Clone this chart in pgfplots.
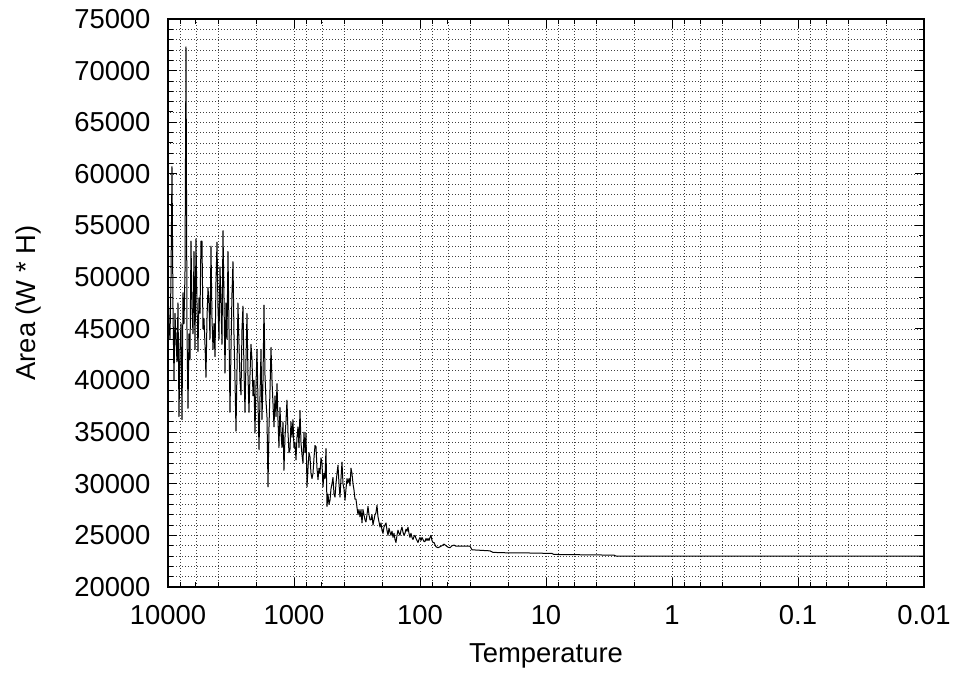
\documentclass[border=0pt]{standalone}
\usepackage{fontspec}
\setmainfont{Liberation Sans}
\usepackage{pgfplots}
\pgfplotsset{compat=1.18}

\begin{document}
\begin{tikzpicture}
\begin{axis}[
    scale only axis,
    width=756bp, height=568bp,
    xmode=log, x dir=reverse,
    xmin=0.01, xmax=10000,
    ymin=20000, ymax=75000,
    xtick={0.01,0.1,1,10,100,1000,10000},
    xticklabels={0.01,0.1,1,10,100,1000,10000},
    minor xtick={0.02,0.04,0.06,0.08,0.2,0.4,0.6,0.8,2,4,6,8,20,40,60,80,200,400,600,800,2000,4000,6000,8000},
    ytick={20000,25000,...,75000},
    minor y tick num=4,
    scaled y ticks=false,
    /pgf/number format/assume math mode=true,
    y tick label style={/pgf/number format/fixed, /pgf/number format/1000 sep={}},
    grid=both,
    major grid style={black!75, line width=0.6bp, dash pattern=on 1bp off 2bp},
    minor grid style={black!75, line width=0.6bp, dash pattern=on 1bp off 2bp},
    tick align=inside,
    major tick length=9bp, minor tick length=5bp,
    every tick/.style={black, line width=0.9bp},
    axis line style={black, line width=1.1bp},
    tick label style={font=\fontsize{27.5}{32}\selectfont},
    yticklabel style={xshift=-14bp},
    xticklabel style={yshift=-15bp},
    xlabel={Temperature},
    ylabel={Area (W * H)},
    every axis x label/.style={at={(axis description cs:0.5,-0.1338)}, anchor=base, font=\fontsize{27.5}{32}\selectfont},
    every axis y label/.style={at={(axis description cs:-0.1746,0.5)}, rotate=90, anchor=base, font=\fontsize{27.5}{32}\selectfont},
]
\addplot[black, line width=1bp, line join=round] table[row sep=\\] {
T A \\
10000 49000 \\ 9819 45500 \\ 9641 44000 \\ 9467 49800 \\ 9295 60700 \\
9127 47000 \\ 8962 40000 \\ 8799 46500 \\ 8640 44000 \\ 8483 41800 \\
8330 47500 \\ 8179 36500 \\ 8031 43000 \\ 7885 45500 \\ 7743 36200 \\
7602 48500 \\ 7465 45500 \\ 7330 50500 \\ 7197 72300 \\ 7067 45000 \\
6939 37300 \\ 6813 44500 \\ 6690 42000 \\ 6568 53500 \\ 6450 47000 \\
6333 44500 \\ 6218 52500 \\ 6105 43000 \\ 5995 53700 \\ 5886 47500 \\
5780 42800 \\ 5675 48000 \\ 5572 46500 \\ 5471 53500 \\ 5372 53500 \\
5275 45000 \\ 5180 46000 \\ 5086 43500 \\ 4994 40300 \\ 4903 46000 \\
4814 49000 \\ 4727 47500 \\ 4642 44000 \\ 4558 53000 \\ 4475 46000 \\
4394 43000 \\ 4314 45500 \\ 4236 42300 \\ 4160 49500 \\ 4084 53400 \\
4010 47000 \\ 3938 44000 \\ 3866 51000 \\ 3796 47500 \\ 3728 43500 \\
3660 54500 \\ 3594 48000 \\ 3529 40700 \\ 3465 47500 \\ 3402 44000 \\
3341 52500 \\ 3280 45000 \\ 3221 36900 \\ 3162 43000 \\ 3105 48500 \\
3049 51500 \\ 2994 44500 \\ 2939 40000 \\ 2886 35100 \\ 2834 41000 \\
2783 47500 \\ 2732 43500 \\ 2683 40000 \\ 2634 38600 \\ 2586 45000 \\
2540 47200 \\ 2494 41000 \\ 2448 36900 \\ 2404 42000 \\ 2361 46500 \\
2318 40500 \\ 2276 36900 \\ 2235 40500 \\ 2194 43500 \\ 2154 42000 \\
2115 38500 \\ 2077 40000 \\ 2040 34900 \\ 2003 39500 \\ 1966 43000 \\
1931 38000 \\ 1895 33300 \\ 1861 38500 \\ 1827 43000 \\ 1795 36200 \\
1762 40000 \\ 1730 47300 \\ 1699 40500 \\ 1668 38000 \\ 1638 36500 \\
1608 29700 \\ 1579 35500 \\ 1551 39000 \\ 1522 43200 \\ 1495 40000 \\
1468 37800 \\ 1441 35500 \\ 1415 38500 \\ 1389 36500 \\ 1364 39700 \\
1340 36200 \\ 1316 33500 \\ 1292 37400 \\ 1269 35000 \\ 1246 33500 \\
1223 36000 \\ 1201 31300 \\ 1179 34500 \\ 1158 36000 \\ 1137 38100 \\
1116 35000 \\ 1096 33000 \\ 1076 33300 \\ 1057 36000 \\ 1037 34500 \\
1019 36200 \\ 1000 33500 \\ 981.9 34000 \\ 964.1 32300 \\ 946.7 34500 \\
929.5 35500 \\ 912.7 33500 \\ 896.2 37100 \\ 879.9 34000 \\ 864.0 32800 \\
848.3 32000 \\ 833.0 35000 \\ 817.9 33000 \\ 803.1 34900 \\ 788.5 29700 \\
774.3 31500 \\ 760.2 33000 \\ 746.5 32600 \\ 733.0 31000 \\ 719.7 30500 \\
706.7 31000 \\ 693.9 32500 \\ 681.3 33700 \\ 669.0 33600 \\ 656.8 31500 \\
645.0 30400 \\ 633.3 31500 \\ 621.8 31000 \\ 610.5 32500 \\ 599.5 32000 \\
588.6 29700 \\ 578.0 31000 \\ 567.5 30500 \\ 557.2 33400 \\ 547.1 27800 \\
537.2 29000 \\ 527.5 28000 \\ 517.9 28400 \\ 508.6 29500 \\ 499.4 30000 \\
490.3 30600 \\ 481.4 29000 \\ 472.7 28700 \\ 464.2 30000 \\ 455.8 31000 \\
447.5 31800 \\ 439.4 30000 \\ 431.4 28700 \\ 423.6 30500 \\ 416.0 32100 \\
408.4 30000 \\ 401.0 29500 \\ 393.8 28400 \\ 386.6 29500 \\ 379.6 30500 \\
372.8 30100 \\ 366.0 30500 \\ 359.4 29800 \\ 352.9 31500 \\ 346.5 31000 \\
340.2 30000 \\ 334.1 29400 \\ 328.0 28500 \\ 322.1 28500 \\ 316.2 27700 \\
310.5 27000 \\ 304.9 27500 \\ 299.4 26800 \\ 293.9 27500 \\ 288.6 26200 \\
283.4 27500 \\ 278.3 27000 \\ 273.2 26500 \\ 268.3 26300 \\ 263.4 27000 \\
258.6 27800 \\ 254.0 27000 \\ 249.4 26500 \\ 244.8 26500 \\ 240.4 27000 \\
236.1 26000 \\ 231.8 26500 \\ 227.6 27000 \\ 223.5 27200 \\ 219.4 27900 \\
215.4 26800 \\ 211.5 26300 \\ 207.7 25800 \\ 204.0 26200 \\ 200.3 25500 \\
196.6 25200 \\ 193.1 25800 \\ 189.6 26000 \\ 186.1 26200 \\ 182.8 25500 \\
179.5 25000 \\ 176.2 25700 \\ 173.0 25300 \\ 169.9 25000 \\ 166.8 25400 \\
163.8 24800 \\ 160.8 25200 \\ 157.9 24600 \\ 155.1 24300 \\ 152.2 25000 \\
149.5 25500 \\ 146.8 25200 \\ 144.1 25000 \\ 141.5 25500 \\ 139.0 25800 \\
136.4 25300 \\ 134.0 25000 \\ 131.5 25200 \\ 129.2 25600 \\ 126.8 25400 \\
124.5 25800 \\ 122.3 25200 \\ 120.1 24800 \\ 117.9 25200 \\ 115.7 24800 \\
113.6 24600 \\ 111.6 24900 \\ 109.6 25000 \\ 107.6 24700 \\ 105.6 24500 \\
103.7 24300 \\ 101.9 24600 \\ 100 24800 \\ 98.19 24500 \\ 96.41 24800 \\
94.67 24600 \\ 92.95 24400 \\ 91.27 24400 \\ 89.62 24700 \\ 87.99 24500 \\
86.40 24700 \\ 84.83 24500 \\ 83.30 24800 \\ 81.79 25000 \\ 80.31 24500 \\
78.85 24300 \\ 77.43 24300 \\ 74.65 23900 \\ 71.97 23800 \\ 69.39 23900 \\
66.90 24000 \\ 64.50 24150 \\ 62.18 24000 \\ 59.95 23850 \\ 57.80 23800 \\
55.72 24000 \\ 53.72 24050 \\ 51.80 23950 \\ 49.94 23950 \\ 43.94 23950 \\
40.10 23950 \\ 38.66 23600 \\ 27.83 23500 \\ 26.34 23350 \\ 23.18 23330 \\
19.31 23300 \\ 14.68 23300 \\ 8.962 23250 \\ 8.640 23150 \\ 3.728 23100 \\
2.886 23080 \\ 2.783 23000 \\ 0.01 23000 \\
};
\coordinate (bl) at (axis description cs:0,0);
\coordinate (tr) at (axis description cs:1,1);
\end{axis}
\pgfresetboundingbox
\path[use as bounding box] ([shift={(-168bp,-88bp)}]bl) rectangle ([shift={(32bp,19bp)}]tr);
\end{tikzpicture}
\end{document}
